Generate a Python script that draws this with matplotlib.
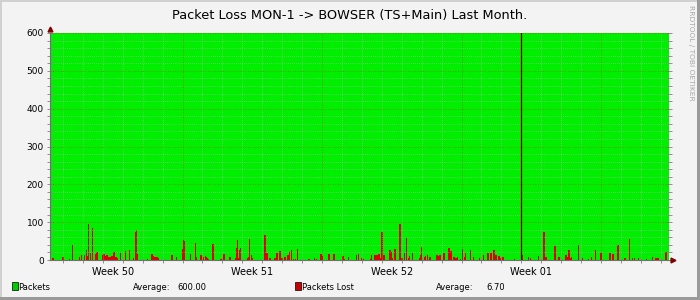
# Gráfico estilo RRDtool - perda de pacotes no último mês
from matplotlib import pyplot as plt
from matplotlib.patches import Rectangle
import numpy as np

titulo = 'Packet Loss MON-1 -> BOWSER (TS+Main) Last Month.'
semanas = ['Week 50', 'Week 51', 'Week 52', 'Week 01']
centro_semanas = [3.5, 10.5, 17.5, 24.5]
inicio_semanas = [7, 14, 21, 28]
virada_ano = 24.0
inicio, fim = 0.35, 31.41

# Série de pacotes (constante) e médias da legenda
pacotes = 600.0
media_pacotes = '600.00'
media_perda = '6.70'

# Perdas: dia (desde o início da semana 50) e valor
perda_dias = [
    0.50, 1.00, 1.35, 1.46, 1.81, 1.91, 2.06, 2.16, 2.21, 2.26, 2.36, 2.46, 2.66, 2.71,
    3.01, 3.06, 3.11, 3.21, 3.31, 3.41, 3.46, 3.56, 3.66, 3.71, 3.91, 4.16, 4.32, 4.52,
    4.62, 4.67, 4.72, 5.22, 5.47, 5.52, 5.62, 5.72, 5.77, 6.47, 6.72, 7.02, 7.07, 7.12,
    7.38, 7.63, 7.68, 7.88, 7.93, 8.03, 8.13, 8.18, 8.23, 8.28, 8.53, 8.93, 9.08, 9.38,
    9.68, 9.73, 9.78, 9.83, 9.88, 9.93, 10.24, 10.29, 10.34, 10.44, 10.49, 11.14, 11.24,
    11.39, 11.64, 11.74, 11.89, 11.99, 12.14, 12.29, 12.39, 12.49, 12.59, 12.69, 12.79,
    13.30, 13.35, 13.60, 13.70, 13.95, 14.00, 14.35, 14.60, 15.05, 15.10, 15.35, 15.71,
    15.81, 15.96, 16.06, 16.41, 16.46, 16.61, 16.66, 16.76, 16.86, 16.96, 17.01, 17.11,
    17.41, 17.46, 17.51, 17.66, 17.91, 17.96, 18.06, 18.16, 18.26, 18.36, 18.41, 18.56,
    18.87, 18.92, 18.97, 19.12, 19.17, 19.27, 19.37, 19.42, 19.77, 19.82, 19.92, 20.12,
    20.37, 20.47, 20.62, 20.72, 20.82, 20.97, 21.07, 21.17, 21.22, 21.43, 21.58, 21.88,
    22.08, 22.33, 22.48, 22.63, 22.73, 22.88, 22.93, 23.08, 23.68, 24.08, 24.34, 24.44,
    24.84, 25.14, 25.24, 25.69, 25.89, 26.24, 26.29, 26.39, 26.49, 26.54, 26.89, 27.09,
    27.35, 27.50, 27.70, 28.00, 28.45, 28.60, 28.85, 29.20, 29.45, 29.60, 29.70, 29.90,
    30.26, 30.56, 30.76, 30.86, 31.26]
perda_valores = [
    5, 8, 3, 40, 8, 13, 13, 26, 10, 95, 18, 84, 16, 21,
    13, 16, 10, 13, 8, 8, 10, 21, 8, 6, 18, 24, 26, 5,
    75, 79, 17, 3, 16, 10, 8, 8, 5, 13, 8, 29, 53, 50,
    16, 45, 8, 13, 13, 8, 10, 8, 5, 3, 42, 3, 16, 8,
    5, 32, 53, 5, 26, 32, 5, 8, 55, 13, 5, 66, 18,
    5, 5, 18, 24, 5, 8, 13, 21, 26, 3, 3, 29,
    3, 3, 5, 3, 16, 10, 16, 16, 10, 3, 8, 13,
    16, 5, 3, 3, 13, 13, 13, 13, 16, 5, 74, 13,
    26, 21, 5, 29, 95, 5, 5, 18, 58, 5, 10, 18,
    5, 13, 34, 8, 10, 13, 8, 8, 13, 10, 13, 18,
    32, 24, 8, 5, 8, 3, 29, 8, 18, 26, 8, 5,
    13, 18, 18, 26, 13, 10, 5, 8, 3, 13, 8, 5,
    10, 74, 8, 37, 8, 13, 8, 26, 5, 8, 40, 5,
    3, 8, 26, 18, 18, 16, 40, 5, 55, 5, 5, 5,
    3, 8, 5, 5, 21]

verde = '#00EE00'
vermelho = '#DD0000'
fundo = '#F3F3F3'

fig = plt.figure(figsize=(7, 3), dpi=100, facecolor=fundo)
ax = fig.add_axes([50/700, 40/300, 619/700, 227/300])
ax.set_facecolor(fundo)
ax.set_xlim(inicio, fim)
ax.set_ylim(0, 600)

# Áreas
ax.fill_between([inicio, fim], 0, pacotes, color=verde, lw=0, zorder=1)
ax.bar(perda_dias, perda_valores, width=0.055, color=vermelho, lw=0, zorder=2)

# Grade (por cima dos dados, como no rrdtool)
cinza = '#B4B4B4'
for d in range(1, 32):
    if d not in inicio_semanas:
        ax.axvline(d, color=cinza, lw=0.5, ls=(0, (1, 2)), zorder=3)
for d in inicio_semanas:
    ax.axvline(d, color='#FF0000', lw=0.6, ls=(0, (1, 2)), alpha=0.5, zorder=3)
for v in range(20, 600, 20):
    if v % 100:
        ax.axhline(v, color=cinza, lw=0.5, ls=(0, (1, 2)), zorder=3)
for v in range(100, 601, 100):
    ax.axhline(v, color='#FF0000', lw=0.6, ls=(0, (1, 2)), alpha=0.5, zorder=3)
ax.axvline(virada_ano, color='#660000', lw=0.9, zorder=4)

# Eixos
for lado in ['top', 'right']:
    ax.spines[lado].set_visible(False)
for lado in ['left', 'bottom']:
    ax.spines[lado].set_color('#707070')
    ax.spines[lado].set_linewidth(0.8)
    ax.spines[lado].set_zorder(5)

ax.set_yticks(range(0, 601, 100))
ax.set_yticks(range(0, 601, 20), minor=True)
ax.tick_params(axis='y', which='both', direction='inout', length=4, width=0.6,
               color='#808080', labelsize=6.5, pad=2.5, right=True)
ax.set_xticks(centro_semanas, semanas)
ax.set_xticks(range(1, 32), minor=True)
ax.tick_params(axis='x', which='major', length=0, labelsize=7, pad=5)
ax.tick_params(axis='x', which='minor', direction='inout', length=4, width=0.6,
               color='#808080')

# Setas dos eixos
ax.plot(0, 1.018, marker='^', ms=3.5, color='#7F0000', transform=ax.transAxes,
        clip_on=False, zorder=6)
ax.plot(1.006, 0, marker='>', ms=3.5, color='#7F0000', transform=ax.transAxes,
        clip_on=False, zorder=6)

# Título e textos
fig.text(0.5, 1 - 18.5/300, titulo, ha='center', va='baseline', fontsize=9.3)
fig.text(690.5/700, 1 - 5/300, 'RRDTOOL / TOBI OETIKER', rotation=270,
         ha='center', va='top', fontsize=5.4, color='#A8A8A8')

# Legenda
yl = 1 - 289.5/300
fig.patches.append(Rectangle((12/700, 1 - 290/300), 6/700, 8/300,
                             transform=fig.transFigure, facecolor='#00CC00',
                             edgecolor='black', lw=0.5))
fig.text(18.5/700, yl, 'Packets', fontsize=6, va='baseline')
fig.text(133/700, yl, 'Average:', fontsize=6, va='baseline')
fig.text(206/700, yl, media_pacotes, fontsize=6, va='baseline', ha='right')
fig.patches.append(Rectangle((295/700, 1 - 290/300), 6/700, 8/300,
                             transform=fig.transFigure, facecolor='#CC0000',
                             edgecolor='black', lw=0.5))
fig.text(301.5/700, yl, 'Packets Lost', fontsize=6, va='baseline')
fig.text(436/700, yl, 'Average:', fontsize=6, va='baseline')
fig.text(505/700, yl, media_perda, fontsize=6, va='baseline', ha='right')

# Moldura 3D
fig.patches.append(Rectangle((0, 1 - 2/300), 1, 2/300, transform=fig.transFigure,
                             facecolor='#D0D0D0', lw=0))
fig.patches.append(Rectangle((0, 0), 2/700, 1, transform=fig.transFigure,
                             facecolor='#D0D0D0', lw=0))
fig.patches.append(Rectangle((0, 0), 1, 3/300, transform=fig.transFigure,
                             facecolor='#9A9A9A', lw=0))
fig.patches.append(Rectangle((1 - 3/700, 0), 3/700, 1, transform=fig.transFigure,
                             facecolor='#9A9A9A', lw=0))

fig.savefig('out.png', dpi=100, facecolor=fundo)
